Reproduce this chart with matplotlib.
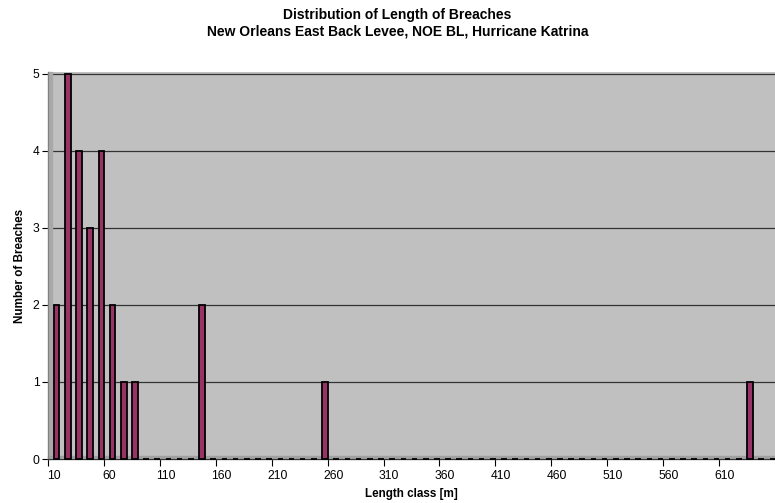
import numpy as np
import matplotlib.pyplot as plt
from matplotlib.patches import Rectangle

plt.rcParams['font.family'] = ['Liberation Sans', 'DejaVu Sans']

# length classes [m], one category every 10 m
lengths = list(range(10, 660, 10))
counts = [2, 5, 4, 3, 4, 2, 1, 1, 0, 0,
          0, 0, 0, 2, 0, 0, 0, 0, 0, 0,
          0, 0, 0, 0, 1, 0, 0, 0, 0, 0,
          0, 0, 0, 0, 0, 0, 0, 0, 0, 0,
          0, 0, 0, 0, 0, 0, 0, 0, 0, 0,
          0, 0, 0, 0, 0, 0, 0, 0, 0, 0,
          0, 0, 1, 0, 0]
label_every = 5

fig = plt.figure(figsize=(7.75, 5.03), dpi=100)
ax = fig.add_axes([48 / 775, 1 - 459 / 503, 727 / 775, (459 - 72) / 503])

x = np.arange(len(lengths))
ax.set_facecolor('#c0c0c0')
bars = ax.bar(x + 0.27, counts, width=0.5, color='#993366', edgecolor='black', linewidth=1.3, zorder=3)
for b in bars:
    b.set_clip_on(False)

ax.set_xlim(-0.5, len(lengths) - 0.5)
ax.set_ylim(0, 5.02)

# grid lines
for v in range(0, 6):
    ax.axhline(v, color='#333333', lw=0.9, zorder=1)

# left side wall and floor of the 3D look
ax.add_patch(Rectangle((0, 0), 0.006, 1, transform=ax.transAxes, color='#a8a8a8', zorder=2, clip_on=False))
ax.add_patch(Rectangle((0, 0), 1, 0.008, transform=ax.transAxes, color='#a0a0a0', zorder=2, clip_on=False))

ax.set_yticks(range(0, 6))
ax.tick_params(axis='y', length=4, labelsize=8.7, pad=2)

# ticks between categories, labels centred on categories
ax.set_xticks(x[::label_every] - 0.5)
ax.set_xticklabels([])
ax.set_xticks(x[::label_every], minor=True)
ax.set_xticklabels([str(v) for v in lengths[::label_every]], minor=True, fontsize=8.7)
ax.tick_params(axis='x', which='major', length=5)
ax.tick_params(axis='x', which='minor', length=0, pad=8)

for s in ['top', 'right']:
    ax.spines[s].set_visible(False)
ax.spines['left'].set_color('#808080')
ax.spines['bottom'].set_color('#333333')

ax.set_xlabel('Length class [m]', fontsize=8.4, fontweight='bold', labelpad=4)
ax.set_ylabel('Number of Breaches', fontsize=8.4, fontweight='bold')
ax.yaxis.set_label_coords(-22 / 727, 0.5)

fig.text(0.513, 1 - 15 / 503, 'Distribution of Length of Breaches', ha='center', va='center',
         fontsize=10, fontweight='bold')
fig.text(0.513, 1 - 32 / 503, 'New Orleans East Back Levee, NOE BL, Hurricane Katrina', ha='center',
         va='center', fontsize=10, fontweight='bold')

fig.savefig('out.png', dpi=100)
